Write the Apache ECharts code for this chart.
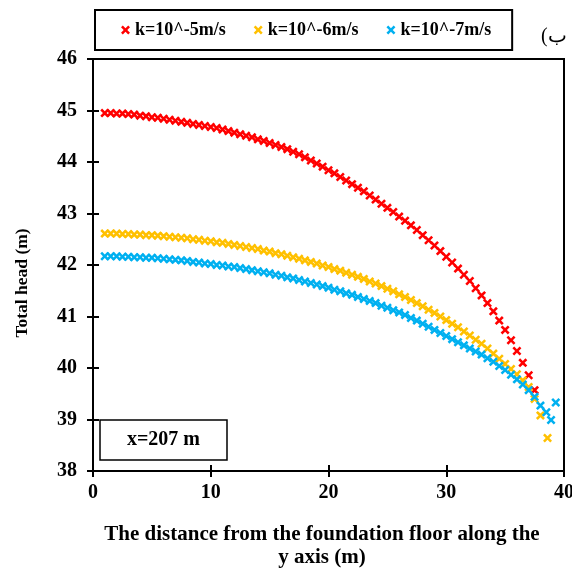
<!DOCTYPE html>
<html>
<head>
<meta charset="utf-8">
<script src="https://cdn.jsdelivr.net/npm/echarts@6/dist/echarts.min.js"></script>
<style>html,body{margin:0;padding:0;background:#fff;}#c{width:572px;height:570px;}</style>
</head>
<body>
<div id="c"></div>
<script>
// Distance from the foundation floor along the y axis (m)
const distance = [1,1.5,2,2.5,3,3.5,4,4.5,5,5.5,6,6.5,7,7.5,8,8.5,9,9.5,10,10.5,11,11.5,12,12.5,13,13.5,14,14.5,15,15.5,16,16.5,17,17.5,18,18.5,19,19.5,20,20.5,21,21.5,22,22.5,23,23.5,24,24.5,25,25.5,26,26.5,27,27.5,28,28.5,29,29.5,30,30.5,31,31.5,32,32.5,33,33.5,34,34.5,35,35.5,36,36.5,37,37.5,38,38.5];

// Total head (m), k = 10^-5 m/s
const headK5 = [44.95,44.95,44.94,44.94,44.93,44.92,44.90,44.89,44.87,44.86,44.84,44.82,44.80,44.78,44.76,44.74,44.72,44.70,44.68,44.66,44.63,44.60,44.57,44.54,44.51,44.48,44.44,44.41,44.37,44.33,44.29,44.25,44.20,44.15,44.09,44.03,43.97,43.91,43.84,43.78,43.71,43.64,43.57,43.50,43.43,43.35,43.27,43.19,43.11,43.03,42.94,42.86,42.77,42.68,42.58,42.48,42.38,42.27,42.16,42.05,41.93,41.81,41.69,41.55,41.41,41.26,41.10,40.92,40.74,40.54,40.33,40.10,39.86,39.57];

// Total head (m), k = 10^-6 m/s
const headK6 = [42.61,42.61,42.61,42.60,42.60,42.59,42.59,42.58,42.58,42.57,42.56,42.55,42.54,42.53,42.52,42.50,42.49,42.47,42.46,42.44,42.43,42.41,42.39,42.37,42.35,42.33,42.31,42.28,42.26,42.23,42.21,42.18,42.15,42.12,42.09,42.06,42.03,41.99,41.96,41.92,41.89,41.85,41.81,41.77,41.73,41.68,41.64,41.59,41.54,41.49,41.43,41.38,41.32,41.26,41.20,41.13,41.07,41.00,40.93,40.86,40.79,40.71,40.63,40.55,40.47,40.38,40.28,40.18,40.08,39.98,39.88,39.76,39.63,39.40,39.08];
const tailK6X = [38.6];
const tailK6 = [38.64];

// Total head (m), k = 10^-7 m/s
const headK7 = [42.17,42.17,42.17,42.16,42.16,42.15,42.15,42.14,42.14,42.13,42.12,42.11,42.10,42.09,42.08,42.06,42.05,42.03,42.02,42.00,41.99,41.97,41.96,41.94,41.92,41.90,41.88,41.86,41.84,41.81,41.79,41.76,41.74,41.71,41.68,41.65,41.62,41.59,41.56,41.52,41.49,41.45,41.42,41.38,41.34,41.30,41.26,41.21,41.17,41.12,41.08,41.03,40.97,40.92,40.86,40.80,40.74,40.68,40.62,40.56,40.50,40.44,40.38,40.32,40.26,40.19,40.12,40.04,39.96,39.87,39.78,39.68,39.57,39.44,39.27,39.14];
const tailK7X = [38.9, 39.3];
const tailK7 = [38.99, 39.33];

const seriesNames = ['k=10^-5m/s', 'k=10^-6m/s', 'k=10^-7m/s'];
const xTicks = {min: 0, max: 40, interval: 10};
const yTicks = {min: 38, max: 46, interval: 1};

function build(vals, tx, ty) {
  const out = vals.map((v, i) => [distance[i], v]);
  (tx || []).forEach((x, i) => out.push([x, ty[i]]));
  return out;
}

const cross = 'path://M0,2 L2,0 L5,3 L8,0 L10,2 L7,5 L10,8 L8,10 L5,7 L2,10 L0,8 L3,5 Z';
const font = '"Liberation Serif", "Times New Roman", serif';
const colors = ['#FF0000', '#FFC000', '#00B0F0'];

const chart = echarts.init(document.getElementById('c'), null, {renderer: 'canvas'});
const axisBase = {
  type: 'value',
  axisLine: {show: true, onZero: false, lineStyle: {color: '#000', width: 2}},
  splitLine: {show: false}
};
chart.setOption({
  animation: false,
  backgroundColor: '#fff',
  color: colors,
  grid: {left: 93, right: 8, top: 59, bottom: 99, show: true, borderColor: '#000', borderWidth: 2,
         backgroundColor: 'transparent', outerBoundsMode: 'none', containLabel: false},
  legend: {
    left: 95, top: 10,
    data: seriesNames,
    icon: cross,
    itemWidth: 9, itemHeight: 9, itemGap: 28,
    padding: [11, 21, 11, 26],
    borderColor: '#000', borderWidth: 2,
    textStyle: {fontFamily: font, fontWeight: 'bold', fontSize: 18, color: '#000'}
  },
  xAxis: [
    Object.assign({}, axisBase, {
      min: xTicks.min, max: xTicks.max, interval: xTicks.interval, position: 'bottom',
      axisTick: {show: true, length: 6, lineStyle: {color: '#000', width: 2}},
      axisLabel: {margin: 12, fontFamily: font, fontWeight: 'bold', fontSize: 20, color: '#000'}
    }),
    Object.assign({}, axisBase, {
      min: xTicks.min, max: xTicks.max, interval: xTicks.interval, position: 'bottom',
      axisLine: {show: false},
      axisTick: {show: true, inside: true, length: 6, lineStyle: {color: '#000', width: 2}},
      axisLabel: {show: false}
    })
  ],
  yAxis: [
    Object.assign({}, axisBase, {
      min: yTicks.min, max: yTicks.max, interval: yTicks.interval, position: 'left',
      axisTick: {show: true, length: 6, lineStyle: {color: '#000', width: 2}},
      axisLabel: {margin: 16, fontFamily: font, fontWeight: 'bold', fontSize: 20, color: '#000'}
    }),
    Object.assign({}, axisBase, {
      min: yTicks.min, max: yTicks.max, interval: yTicks.interval, position: 'left',
      axisLine: {show: false},
      axisTick: {show: true, inside: true, length: 6, lineStyle: {color: '#000', width: 2}},
      axisLabel: {show: false}
    })
  ],
  series: [
    {name: seriesNames[0], type: 'scatter', symbol: cross, symbolSize: 9, data: build(headK5), itemStyle: {color: colors[0], opacity: 1}, z: 3},
    {name: seriesNames[1], type: 'scatter', symbol: cross, symbolSize: 9, data: build(headK6, tailK6X, tailK6), itemStyle: {color: colors[1], opacity: 1}, z: 4},
    {name: seriesNames[2], type: 'scatter', symbol: cross, symbolSize: 9, data: build(headK7, tailK7X, tailK7), itemStyle: {color: colors[2], opacity: 1}, z: 5}
  ],
  graphic: [
    {type: 'text', x: 22, y: 283, rotation: Math.PI / 2,
     style: {text: 'Total head (m)', font: 'bold 17.5px ' + font, fill: '#000', align: 'center', verticalAlign: 'middle'}},
    {type: 'text', x: 322, y: 535,
     style: {text: 'The distance from the foundation floor along the', font: 'bold 21px ' + font, fill: '#000', align: 'center', verticalAlign: 'middle'}},
    {type: 'text', x: 322, y: 558,
     style: {text: 'y axis (m)', font: 'bold 21px ' + font, fill: '#000', align: 'center', verticalAlign: 'middle'}},
    {type: 'text', x: 541, y: 37,
     style: {text: '(ب', font: '20px ' + font, fill: '#000', align: 'left', verticalAlign: 'middle'}},
    {type: 'rect', shape: {x: 100, y: 420, width: 127, height: 40}, z: 10,
     style: {fill: '#fff', stroke: '#000', lineWidth: 1.5}},
    {type: 'text', x: 163.5, y: 440, z: 11,
     style: {text: 'x=207 m', font: 'bold 20px ' + font, fill: '#000', align: 'center', verticalAlign: 'middle'}}
  ]
});
</script>
</body>
</html>
